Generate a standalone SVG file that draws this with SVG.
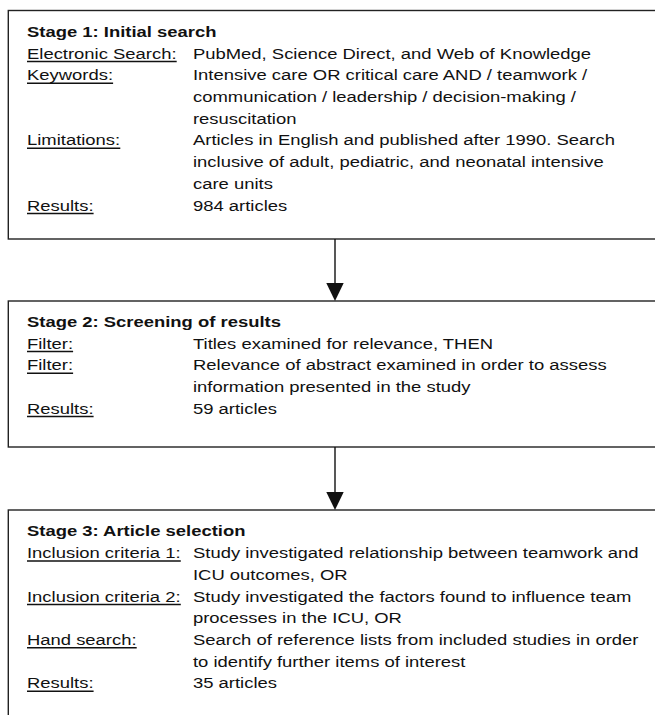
<svg xmlns="http://www.w3.org/2000/svg" width="655" height="715" viewBox="0 0 655 715">
  <defs>
    <style>
      .box { fill: #ffffff; stroke: #222222; stroke-width: 1.4; }
      .t { font-family: "Liberation Sans", Arial, Helvetica, sans-serif; font-size: 15.5px; fill: #111111; }
      .h { font-weight: bold; }
      .ul { stroke: #111111; stroke-width: 1.5; }
      .conn { stroke: #111111; stroke-width: 1.4; fill: none; }
      .head { fill: #111111; stroke: none; }
    </style>
  </defs>
  <rect x="0" y="0" width="655" height="715" fill="#ffffff"/>

  <g id="stage1">
    <rect class="box" x="8.3" y="10.5" width="680" height="228.5"/>
    <g transform="scale(1.19 1)">
      <text class="t h" x="22.69" y="37">Stage 1: Initial search</text>
      <text class="t" x="22.69" y="58.7">Electronic Search:</text>
      <text class="t" x="162.18" y="58.7">PubMed, Science Direct, and Web of Knowledge</text>
      <text class="t" x="22.69" y="80.4">Keywords:</text>
      <text class="t" x="162.18" y="80.4">Intensive care OR critical care AND / teamwork /</text>
      <text class="t" x="162.18" y="102.1">communication / leadership / decision-making /</text>
      <text class="t" x="162.18" y="123.8">resuscitation</text>
      <text class="t" x="22.69" y="145.5">Limitations:</text>
      <text class="t" x="162.18" y="145.5">Articles in English and published after 1990. Search</text>
      <text class="t" x="162.18" y="167.2">inclusive of adult, pediatric, and neonatal intensive</text>
      <text class="t" x="162.18" y="188.9">care units</text>
      <text class="t" x="22.69" y="210.6">Results:</text>
      <text class="t" x="162.18" y="210.6">984 articles</text>
    </g>
    <line class="ul" x1="27" y1="61.5" x2="176.7" y2="61.5"/>
    <line class="ul" x1="27" y1="83.2" x2="113.1" y2="83.2"/>
    <line class="ul" x1="27" y1="148.3" x2="120.3" y2="148.3"/>
    <line class="ul" x1="27" y1="213.4" x2="93.6" y2="213.4"/>
  </g>

  <g id="stage2">
    <rect class="box" x="8.3" y="301" width="680" height="146"/>
    <g transform="scale(1.19 1)">
      <text class="t h" x="22.69" y="327">Stage 2: Screening of results</text>
      <text class="t" x="22.69" y="348.7">Filter:</text>
      <text class="t" x="162.18" y="348.7">Titles examined for relevance, THEN</text>
      <text class="t" x="22.69" y="370.4">Filter:</text>
      <text class="t" x="162.18" y="370.4">Relevance of abstract examined in order to assess</text>
      <text class="t" x="162.18" y="392.1">information presented in the study</text>
      <text class="t" x="22.69" y="413.8">Results:</text>
      <text class="t" x="162.18" y="413.8">59 articles</text>
    </g>
    <line class="ul" x1="27" y1="351.5" x2="73.1" y2="351.5"/>
    <line class="ul" x1="27" y1="373.2" x2="73.1" y2="373.2"/>
    <line class="ul" x1="27" y1="416.6" x2="93.6" y2="416.6"/>
  </g>

  <g id="stage3">
    <rect class="box" x="8.3" y="510" width="680" height="230"/>
    <g transform="scale(1.19 1)">
      <text class="t h" x="22.69" y="536.5">Stage 3: Article selection</text>
      <text class="t" x="22.69" y="558.2">Inclusion criteria 1:</text>
      <text class="t" x="162.18" y="558.2">Study investigated relationship between teamwork and</text>
      <text class="t" x="162.18" y="579.9">ICU outcomes, OR</text>
      <text class="t" x="22.69" y="601.6">Inclusion criteria 2:</text>
      <text class="t" x="162.18" y="601.6">Study investigated the factors found to influence team</text>
      <text class="t" x="162.18" y="623.3">processes in the ICU, OR</text>
      <text class="t" x="22.69" y="645">Hand search:</text>
      <text class="t" x="162.18" y="645">Search of reference lists from included studies in order</text>
      <text class="t" x="162.18" y="666.7">to identify further items of interest</text>
      <text class="t" x="22.69" y="688.4">Results:</text>
      <text class="t" x="162.18" y="688.4">35 articles</text>
    </g>
    <line class="ul" x1="27" y1="561" x2="180.8" y2="561"/>
    <line class="ul" x1="27" y1="604.4" x2="180.8" y2="604.4"/>
    <line class="ul" x1="27" y1="647.8" x2="136.7" y2="647.8"/>
    <line class="ul" x1="27" y1="691.2" x2="93.6" y2="691.2"/>
  </g>

  <g id="connectors">
    <line class="conn" x1="335" y1="239" x2="335" y2="284"/>
    <polygon class="head" points="326.3,283 343.7,283 335,301"/>
    <line class="conn" x1="335" y1="447" x2="335" y2="493"/>
    <polygon class="head" points="326.3,492 343.7,492 335,510"/>
  </g>
</svg>
